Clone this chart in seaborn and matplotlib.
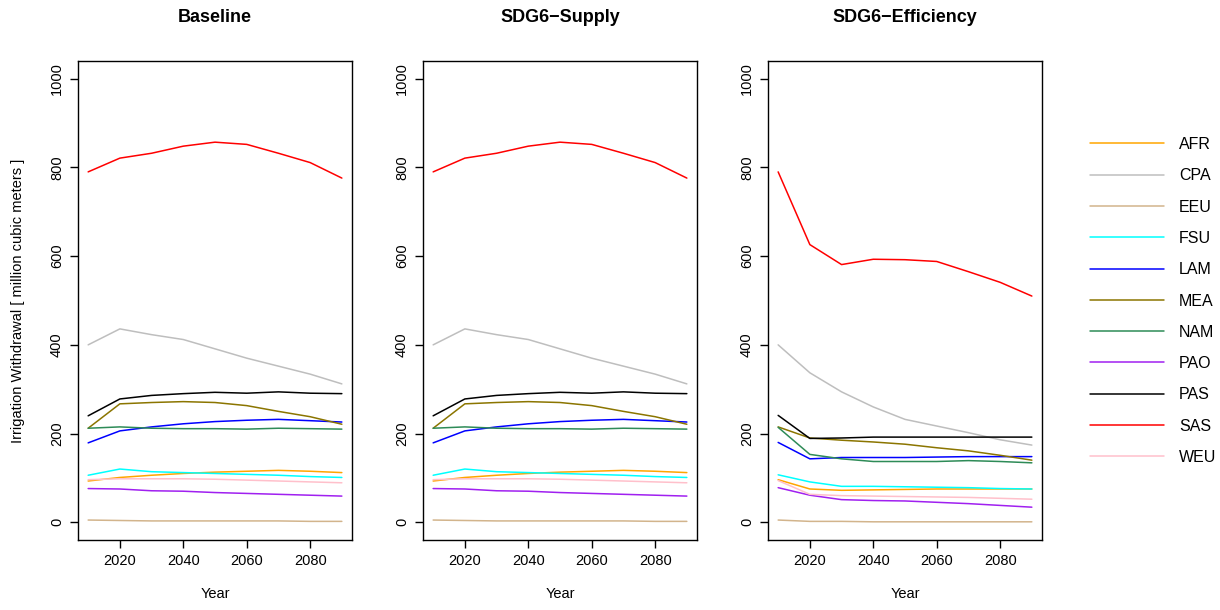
import numpy as np
import pandas as pd
import matplotlib
matplotlib.use("Agg")
import matplotlib.pyplot as plt
import seaborn as sns
from matplotlib.lines import Line2D

years = [2010, 2020, 2030, 2040, 2050, 2060, 2070, 2080, 2090]
regions = ["AFR", "CPA", "EEU", "FSU", "LAM", "MEA", "NAM", "PAO", "PAS", "SAS", "WEU"]
scenarios = ["Baseline", "SDG6\u2212Supply", "SDG6\u2212Efficiency"]

baseline = {
    "AFR": [93, 101, 106, 110, 113, 115, 117, 115, 112],
    "CPA": [400, 436, 423, 412, 391, 370, 352, 334, 312],
    "EEU": [5, 4, 3, 3, 3, 3, 3, 2, 2],
    "FSU": [106, 120, 114, 112, 110, 108, 106, 103, 101],
    "LAM": [179, 206, 215, 222, 227, 230, 232, 229, 226],
    "MEA": [212, 267, 270, 272, 270, 263, 250, 238, 221],
    "NAM": [212, 215, 212, 211, 211, 210, 212, 211, 210],
    "PAO": [76, 75, 71, 70, 67, 65, 63, 61, 59],
    "PAS": [240, 278, 286, 290, 293, 291, 294, 291, 290],
    "SAS": [790, 821, 832, 848, 857, 852, 832, 811, 776],
    "WEU": [96, 98, 98, 98, 97, 95, 93, 91, 89],
}

supply = {
    "AFR": [93, 101, 106, 110, 113, 115, 117, 115, 112],
    "CPA": [400, 436, 423, 412, 391, 370, 352, 334, 312],
    "EEU": [5, 4, 3, 3, 3, 3, 3, 2, 2],
    "FSU": [106, 120, 114, 112, 110, 108, 106, 103, 101],
    "LAM": [179, 206, 215, 222, 227, 230, 232, 229, 226],
    "MEA": [212, 267, 270, 272, 270, 263, 250, 238, 221],
    "NAM": [212, 215, 212, 211, 211, 210, 212, 211, 210],
    "PAO": [76, 75, 71, 70, 67, 65, 63, 61, 59],
    "PAS": [240, 278, 286, 290, 293, 291, 294, 291, 290],
    "SAS": [790, 821, 832, 848, 857, 852, 832, 811, 776],
    "WEU": [96, 98, 98, 98, 97, 95, 93, 91, 89],
}

efficiency = {
    "AFR": [96, 75, 72, 73, 74, 75, 75, 75, 75],
    "CPA": [400, 337, 294, 260, 232, 217, 202, 186, 174],
    "EEU": [5, 2, 2, 1, 1, 1, 1, 1, 1],
    "FSU": [107, 91, 81, 81, 80, 79, 78, 76, 75],
    "LAM": [180, 143, 146, 146, 146, 147, 148, 148, 148],
    "MEA": [215, 190, 185, 181, 176, 168, 161, 151, 140],
    "NAM": [214, 153, 143, 137, 137, 137, 139, 137, 134],
    "PAO": [78, 61, 51, 49, 48, 45, 42, 38, 34],
    "PAS": [241, 189, 190, 192, 192, 192, 192, 192, 192],
    "SAS": [790, 626, 581, 593, 592, 588, 565, 541, 510],
    "WEU": [94, 63, 60, 59, 58, 57, 56, 54, 52],
}

colors = {
    "AFR": "#FFA500", "CPA": "#BEBEBE", "EEU": "#D2B48C", "FSU": "#00FFFF",
    "LAM": "#0000FF", "MEA": "#8B7500", "NAM": "#2E8B57", "PAO": "#A020F0",
    "PAS": "#000000", "SAS": "#FF0000", "WEU": "#FFC0CB",
}

sns.set_style("white")
plt.rcParams["font.family"] = ["Liberation Sans", "DejaVu Sans"]
plt.rcParams.update({"text.color": "black", "axes.labelcolor": "black",
                     "xtick.color": "black", "ytick.color": "black"})

fig = plt.figure(figsize=(12.2, 6.1), dpi=100)
lefts = [78, 423, 768]
datasets = [baseline, supply, efficiency]

for i, (scen, data) in enumerate(zip(scenarios, datasets)):
    ax = fig.add_axes([lefts[i] / 1220, 1 - 540 / 610, 274 / 1220, 479 / 610])
    rows = []
    for r in regions:
        for y, v in zip(years, data[r]):
            rows.append({"Year": y, "Region": r, "Value": v})
    df = pd.DataFrame(rows)
    sns.lineplot(data=df, x="Year", y="Value", hue="Region", hue_order=regions,
                 palette=colors, ax=ax, legend=False, linewidth=1.1)
    ax.set_xlim(2006.8, 2093.2)
    ax.set_ylim(-40, 1040)
    ax.set_xticks([2020, 2040, 2060, 2080])
    ax.set_yticks([0, 200, 400, 600, 800, 1000])
    ax.tick_params(axis="both", direction="out", length=6, width=1, labelsize=10.5,
                   colors="black", left=True, bottom=True)
    for lab in ax.get_yticklabels():
        lab.set_rotation(90)
        lab.set_va("center")
    ax.tick_params(axis="x", pad=4)
    ax.tick_params(axis="y", pad=4)
    for s in ax.spines.values():
        s.set_visible(True)
        s.set_color("black")
        s.set_linewidth(1.0)
    ax.set_xlabel("Year", fontsize=10.5, labelpad=14)
    if i == 0:
        ax.set_ylabel("Irrigation Withdrawal [ million cubic meters ]", fontsize=10.5, labelpad=18)
    else:
        ax.set_ylabel("")
    ax.set_title(scen, fontsize=13, fontweight="bold", pad=28)

handles = [Line2D([0], [0], color=colors[r], lw=1.1) for r in regions]
fig.legend(handles, regions, loc="center left", bbox_to_anchor=(1076 / 1220, 1 - 301 / 610),
           frameon=False, fontsize=11.5, handlelength=4.6, handletextpad=0.95,
           labelspacing=1.02, borderpad=0.4)

fig.savefig("out.png", dpi=100)
